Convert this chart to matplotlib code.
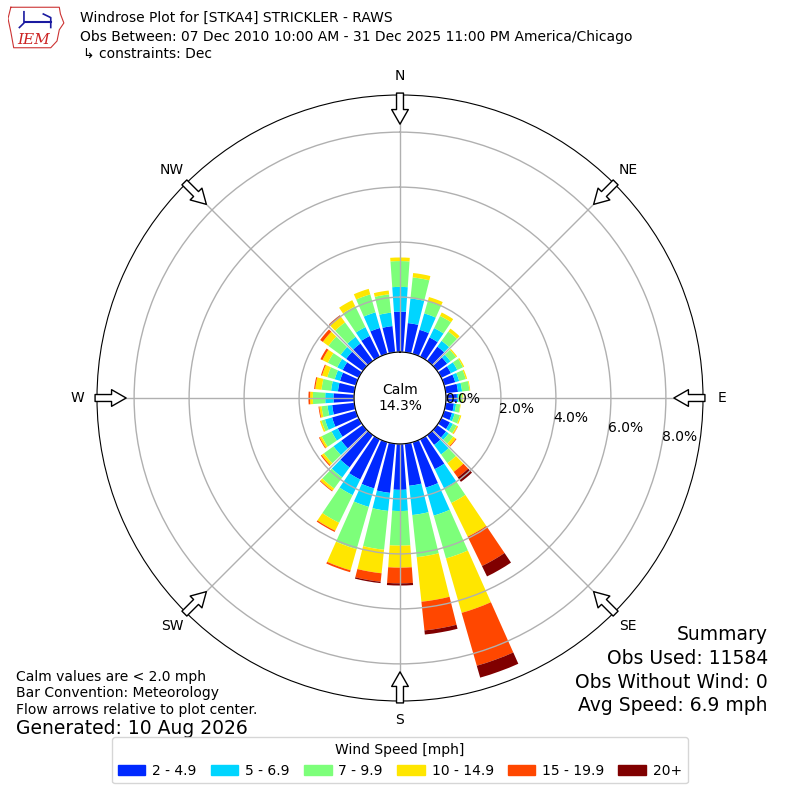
import numpy as np
import matplotlib.pyplot as plt
from matplotlib.patches import Patch

# wind directions (deg, meteorological) and percent of obs per speed bin
directions = np.arange(0, 360, 10)
speed_labels = ["2 - 4.9", "5 - 6.9", "7 - 9.9", "10 - 14.9", "15 - 19.9", "20+"]

spd_2_5 = [1.47, 1.07, 0.91, 0.78, 0.64, 0.45, 0.39, 0.42, 0.45, 0.40, 0.30, 0.30,
           0.35, 0.40, 0.44, 1.21, 1.72, 1.54, 1.67, 1.80, 1.75, 1.63, 1.45, 0.97,
           0.85, 0.90, 0.81, 0.75, 0.60, 0.60, 0.65, 0.75, 0.78, 0.84, 0.98, 0.96]
spd_5_7 = [0.90, 0.90, 0.62, 0.38, 0.26, 0.15, 0.26, 0.15, 0.15, 0.05, 0.08, 0.10,
           0.12, 0.12, 0.43, 0.77, 1.06, 1.07, 0.77, 0.66, 0.70, 0.63, 0.45, 0.35,
           0.25, 0.27, 0.17, 0.30, 0.25, 0.20, 0.22, 0.25, 0.30, 0.36, 0.59, 0.49]
spd_7_10 = [0.94, 0.77, 0.46, 0.49, 0.42, 0.25, 0.23, 0.25, 0.27, 0.15, 0.15, 0.20,
            0.15, 0.20, 0.39, 0.60, 1.62, 1.54, 1.26, 1.42, 1.60, 1.12, 0.50, 0.43,
            0.40, 0.13, 0.22, 0.45, 0.35, 0.28, 0.38, 0.55, 0.65, 0.84, 0.68, 0.67]
spd_10_15 = [0.13, 0.16, 0.16, 0.14, 0.13, 0.05, 0.05, 0.05, 0.03, 0.03, 0.02, 0.05,
             0.05, 0.12, 0.39, 1.36, 2.06, 1.63, 0.80, 0.86, 0.80, 0.32, 0.10, 0.10,
             0.08, 0.06, 0.08, 0.10, 0.23, 0.20, 0.22, 0.25, 0.25, 0.25, 0.21, 0.14]
spd_15_20 = [0, 0, 0, 0, 0, 0, 0, 0, 0, 0, 0, 0,
             0.01, 0.03, 0.25, 1.19, 2.00, 1.05, 0.57, 0.31, 0.07, 0.05, 0.03, 0.04,
             0.03, 0, 0.03, 0.06, 0.04, 0.04, 0.08, 0.12, 0.06, 0, 0, 0]
spd_20p = [0, 0, 0, 0, 0, 0, 0, 0, 0, 0, 0, 0,
           0, 0, 0.20, 0.42, 0.45, 0.15, 0.08, 0.05, 0, 0, 0, 0,
           0, 0, 0, 0, 0, 0, 0, 0, 0.01, 0, 0, 0]
calm_pct = 14.3

rticks = [0, 2, 4, 6, 8]
compass = ["N", "NE", "E", "SE", "S", "SW", "W", "NW"]

fig = plt.figure(figsize=(8, 8), dpi=100)
ax = fig.add_axes([0.12125, 0.12375, 0.7575, 0.7575], projection="polar")
ax.set_theta_zero_location("N")
ax.set_theta_direction(-1)
ax.set_rorigin(-1.67)
ax.set_ylim(0, 9.35)

colors = plt.cm.jet(np.arange(1, 7) / 6.0)
theta = np.deg2rad(directions)
width = np.deg2rad(8)
base = np.zeros(len(directions))
for vals, c in zip([spd_2_5, spd_5_7, spd_7_10, spd_10_15, spd_15_20, spd_20p], colors):
    vals = np.array(vals)
    ax.bar(theta, vals, width=width, bottom=base, color=c, linewidth=0, zorder=1)
    base = base + vals

ax.set_rgrids(rticks, labels=[f"{t:.1f}%" for t in rticks], fontsize=10)
ax.set_rlabel_position(100)
ax.set_thetagrids(np.arange(0, 360, 45), labels=compass, fontsize=10)
ax.tick_params(axis="x", pad=3.5)
ax.grid(True, color="#b0b0b0", linewidth=1)
ax.spines["polar"].set_color("black")
ax.spines["inner"].set_visible(True)
ax.spines["inner"].set_color("black")

# flow arrows
for d in np.arange(0, 360, 45):
    ax.annotate("", xy=(np.deg2rad(d), 8.29), xytext=(np.deg2rad(d), 9.42),
                arrowprops=dict(arrowstyle="simple,head_length=1.05,head_width=1.2,tail_width=0.5",
                                fc="white", ec="black", lw=1, shrinkA=0, shrinkB=0),
                annotation_clip=False, zorder=5)

fig.text(0.5, 1 - 398 / 800, f"Calm\n{calm_pct:.1f}%", ha="center", va="center",
         fontsize=10)

# header
fig.text(0.1, 1 - 18 / 800, "Windrose Plot for [STKA4] STRICKLER - RAWS", fontsize=10, va="center")
fig.text(0.1, 1 - 37 / 800, "Obs Between: 07 Dec 2010 10:00 AM - 31 Dec 2025 11:00 PM America/Chicago",
         fontsize=10, va="center")
fig.text(0.104, 1 - 54 / 800, "\u21b3 constraints: Dec", fontsize=10, va="center")

# logo (rough)
lax = fig.add_axes([8 / 800, 1 - 50 / 800, 57 / 800, 45 / 800])
lax.plot([0.05, 0.9, 0.92, 0.98, 0.9, 0.86, 0.75, 0.1, 0.05, 0.0, 0.05],
         [0.95, 0.95, 0.8, 0.6, 0.45, 0.2, 0.05, 0.05, 0.4, 0.7, 0.95], color="#cc3333", lw=0.8)
lax.text(0.45, 0.22, "IEM", color="#cc2222", fontsize=11, family="DejaVu Serif",
         style="italic", ha="center", va="center")
lax.plot([0.3, 0.75], [0.62, 0.62], color="#1a1aa0", lw=1.5)
lax.plot([0.28, 0.28, 0.2], [0.85, 0.6, 0.5], color="#1a1aa0", lw=1.2)
lax.plot([0.62, 0.75, 0.75], [0.8, 0.72, 0.5], color="#1a1aa0", lw=1.2)
lax.set_xlim(0, 1)
lax.set_ylim(0, 1)
lax.axis("off")

# footer notes
fig.text(0.02, 1 - 677 / 800, "Calm values are < 2.0 mph", fontsize=10, va="center")
fig.text(0.02, 1 - 693 / 800, "Bar Convention: Meteorology", fontsize=10, va="center")
fig.text(0.02, 1 - 710 / 800, "Flow arrows relative to plot center.", fontsize=10, va="center")
fig.text(0.02, 1 - 729 / 800, "Generated: 10 Aug 2026", fontsize=13.5, va="center")

summary = ["Summary", "Obs Used: 11584", "Obs Without Wind: 0", "Avg Speed: 6.9 mph"]
for i, s in enumerate(summary):
    fig.text(0.96, 1 - (635 + 23.5 * i) / 800, s, fontsize=13.5, ha="right", va="center")

handles = [Patch(color=c) for c in colors]
fig.legend(handles, speed_labels, loc="lower center", bbox_to_anchor=(0.5, 0.012), ncol=6,
           title="Wind Speed [mph]", fontsize=10, title_fontsize=10,
           handletextpad=0.5, columnspacing=1.0)

fig.savefig("out.png", dpi=100)
